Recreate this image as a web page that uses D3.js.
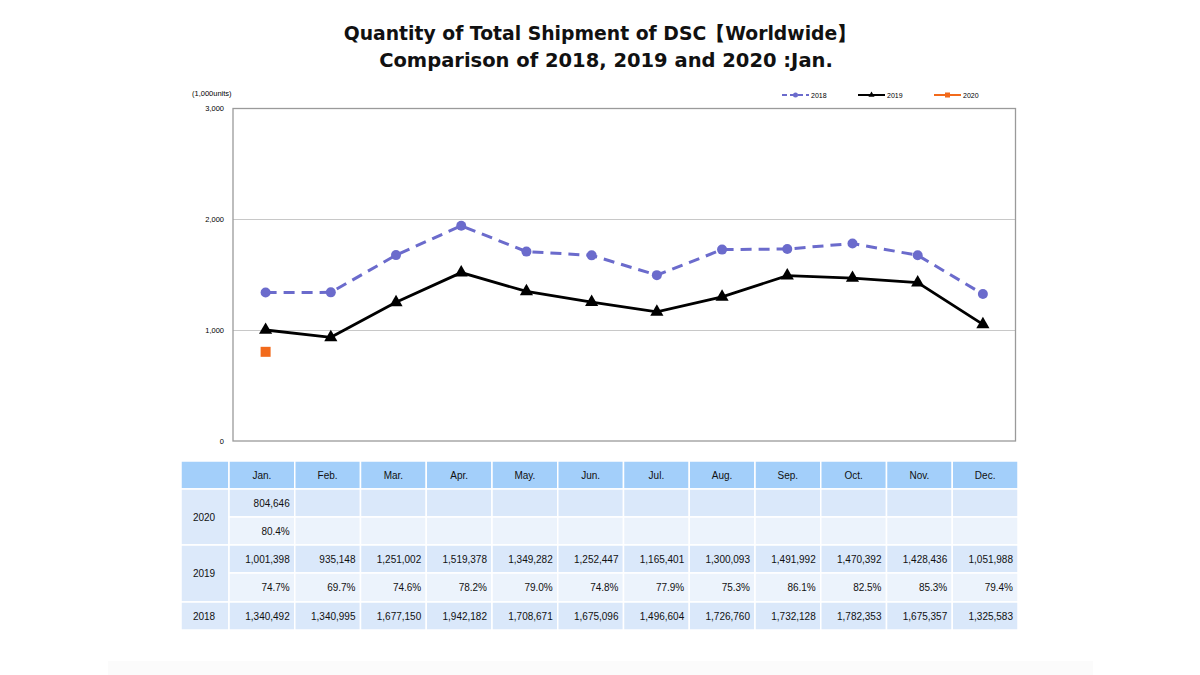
<!DOCTYPE html>
<html><head><meta charset="utf-8">
<script src="https://cdn.jsdelivr.net/npm/d3@7"></script>
<style>body{margin:0;background:#fff}svg{display:block}</style>
</head><body>
<svg id="c" width="1200" height="675"></svg>
<script>
const months = ["Jan.","Feb.","Mar.","Apr.","May.","Jun.","Jul.","Aug.","Sep.","Oct.","Nov.","Dec."];
const s2018 = [1340492,1340995,1677150,1942182,1708671,1675096,1496604,1726760,1732128,1782353,1675357,1325583];
const s2019 = [1001398,935148,1251002,1519378,1349282,1252447,1165401,1300093,1491992,1470392,1428436,1051988];
const s2019pct = ["74.7%","69.7%","74.6%","78.2%","79.0%","74.8%","77.9%","75.3%","86.1%","82.5%","85.3%","79.4%"];
const s2020 = [804646];
const s2020pct = ["80.4%"];
const yTicks = [0,1000,2000,3000];
const titleLines = ["Quantity of Total Shipment of DSC\u3010Worldwide\u3011","Comparison of 2018, 2019 and 2020 :Jan."];

const svg = d3.select("#c");
const fmt = d3.format(",");
const F = "Liberation Sans, Arial, sans-serif";

// faint bottom band
svg.append("rect").attr("x",108).attr("y",661).attr("width",985).attr("height",14).attr("fill","#fbfbfb");

// title
svg.append("text").attr("x",600).attr("y",40).attr("text-anchor","middle")
  .attr("font-family","DejaVu Sans, Verdana, sans-serif").attr("font-weight","bold").attr("font-size",18.8)
  .attr("fill","#111").text(titleLines[0]);
svg.append("text").attr("x",606).attr("y",67).attr("text-anchor","middle")
  .attr("font-family","DejaVu Sans, Verdana, sans-serif").attr("font-weight","bold").attr("font-size",19.5)
  .attr("fill","#111").text(titleLines[1]);

const L = 233, R = 1015.5, T = 108.5, B = 441;
const x = d3.scaleBand().domain(months).range([L, R]);
const y = d3.scaleLinear().domain([0,3000]).range([B, T]);
const cx = m => x(m) + x.bandwidth()/2;

// gridlines
svg.append("g").selectAll("line").data(yTicks.filter(t=>t>0 && t<3000)).join("line")
  .attr("x1",L).attr("x2",R).attr("y1",d=>Math.round(y(d))+0.5).attr("y2",d=>Math.round(y(d))+0.5)
  .attr("stroke","#c8c8c8").attr("stroke-width",1);
// frame
svg.append("rect").attr("x",L).attr("y",T).attr("width",R-L).attr("height",B-T)
  .attr("fill","none").attr("stroke","#9a9a9a").attr("stroke-width",1.3);

// y axis
const ya = svg.append("g").attr("transform",`translate(${L},0)`)
  .call(d3.axisLeft(y).tickValues(yTicks).tickSize(0).tickPadding(9).tickFormat(d=>fmt(d)));
ya.select(".domain").remove();
ya.selectAll("text").attr("font-family",F).attr("font-size",7.5).attr("fill","#000");

svg.append("text").attr("x",192).attr("y",96).attr("font-family",F).attr("font-size",7.5).attr("fill","#000").text("(1,000units)");

// series
const line = d3.line().x((d,i)=>cx(months[i])).y(d=>y(d/1000));
const c18 = "#6b6bcc", c20 = "#f26a1b";
svg.append("path").datum(s2018).attr("d",line).attr("fill","none").attr("stroke",c18)
  .attr("stroke-width",3).attr("stroke-dasharray","11,7");
svg.append("g").selectAll("circle").data(s2018).join("circle")
  .attr("cx",(d,i)=>cx(months[i])).attr("cy",d=>y(d/1000)).attr("r",5).attr("fill",c18);

svg.append("path").datum(s2019).attr("d",line).attr("fill","none").attr("stroke","#000").attr("stroke-width",2.8);
const tri = d3.symbol().type(d3.symbolTriangle).size(75);
svg.append("g").selectAll("path").data(s2019).join("path")
  .attr("d",tri).attr("transform",(d,i)=>`translate(${cx(months[i])},${y(d/1000)})`).attr("fill","#000");

svg.append("g").selectAll("rect").data(s2020).join("rect")
  .attr("x",(d,i)=>cx(months[i])-5).attr("y",d=>y(d/1000)-5).attr("width",10).attr("height",10).attr("fill",c20);

// legend
const leg = [{n:"2018",c:c18,t:"circle",dash:"5,3",x:782},{n:"2019",c:"#000",t:"tri",x:858},{n:"2020",c:c20,t:"sq",x:934}];
leg.forEach(l=>{
  const g = svg.append("g");
  g.append("line").attr("x1",l.x).attr("x2",l.x+27).attr("y1",95).attr("y2",95).attr("stroke",l.c)
    .attr("stroke-width",2).attr("stroke-dasharray",l.dash||null);
  if(l.t==="circle") g.append("circle").attr("cx",l.x+13.5).attr("cy",95).attr("r",2.5).attr("fill",l.c);
  if(l.t==="tri") g.append("path").attr("d",d3.symbol().type(d3.symbolTriangle).size(16)).attr("transform",`translate(${l.x+13.5},95)`).attr("fill",l.c);
  if(l.t==="sq") g.append("rect").attr("x",l.x+11).attr("y",92.5).attr("width",5).attr("height",5).attr("fill",l.c);
  g.append("text").attr("x",l.x+29).attr("y",97.5).attr("font-family",F).attr("font-size",7).attr("fill","#000").text(l.n);
});

// table
const tx0 = 181, tx1 = 229, tRight = 1018;
const tx = d3.scaleBand().domain(months).range([tx1, tRight]);
const rowsY = [461,489,517,545,573,602,630];
const hdr = "#a3cffa", rA = "#dae8fa", rB = "#ecf3fc", yc = "#dce9fa";
const tbl = svg.append("g");
function cell(x0,y0,w,h,fill){ tbl.append("rect").attr("x",x0).attr("y",y0).attr("width",w).attr("height",h).attr("fill",fill).attr("stroke","#fff").attr("stroke-width",1.5); }
function txt(xp,yp,s,anchor){ tbl.append("text").attr("x",xp).attr("y",yp).attr("text-anchor",anchor).attr("font-family",F).attr("font-size",10).attr("fill","#111").text(s); }
// header
cell(tx0,rowsY[0],tx1-tx0,rowsY[1]-rowsY[0],hdr);
months.forEach(m=>{ cell(tx(m),rowsY[0],tx.bandwidth(),rowsY[1]-rowsY[0],hdr); txt(tx(m)+tx.bandwidth()/2,rowsY[0]+17.5,m,"middle"); });
// year label cells
[["2020",1,3],["2019",3,5],["2018",5,6]].forEach(([n,a,b])=>{
  cell(tx0,rowsY[a],tx1-tx0,rowsY[b]-rowsY[a],yc);
  txt(tx0+23,(rowsY[a]+rowsY[b])/2+3.5,n,"middle");
});
const rowData = [
  {vals:s2020.map(fmt), fill:rA},
  {vals:s2020pct, fill:rB},
  {vals:s2019.map(fmt), fill:rA},
  {vals:s2019pct, fill:rB},
  {vals:s2018.map(fmt), fill:rA}
];
rowData.forEach((r,ri)=>{
  const y0 = rowsY[ri+1], h = rowsY[ri+2]-y0;
  months.forEach((m,i)=>{
    cell(tx(m),y0,tx.bandwidth(),h,r.fill);
    if(r.vals[i]!==undefined) txt(tx(m)+tx.bandwidth()-5,y0+h/2+3.5,r.vals[i],"end");
  });
});
</script>
</body></html>
